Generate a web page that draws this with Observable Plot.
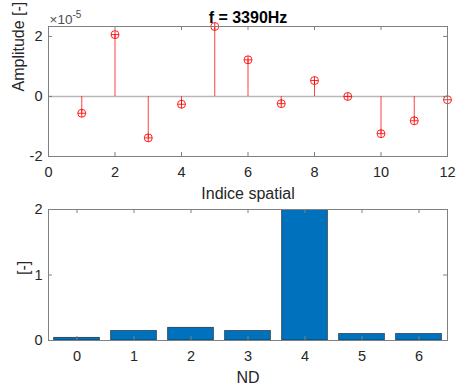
<!DOCTYPE html>
<html>
<head>
<meta charset="utf-8">
<script src="https://cdn.jsdelivr.net/npm/d3@7"></script>
<script src="https://cdn.jsdelivr.net/npm/@observablehq/plot@0.6"></script>
<style>
  html, body { margin: 0; padding: 0; background: #fff; }
  #chart { width: 457px; height: 387px; position: relative; }
  #chart svg { display: block; }
</style>
</head>
<body>
<div id="chart"></div>
<script>
// ---- Data ----
const spatialIndex = [1, 2, 3, 4, 5, 6, 7, 8, 9, 10, 11, 12];
const amplitude = [-0.56e-5, 2.06e-5, -1.38e-5, -0.26e-5, 2.33e-5, 1.22e-5, -0.24e-5, 0.53e-5, 0.0, -1.24e-5, -0.81e-5, -0.11e-5];
const ndCategories = [0, 1, 2, 3, 4, 5, 6];
const ndValues = [0.041, 0.143, 0.194, 0.143, 2.6, 0.097, 0.097];
const topXTicks = [0, 2, 4, 6, 8, 10, 12];
const topYTicks = [-2e-5, 0, 2e-5];
const botYTicks = [0, 1, 2];
const titleText = "f = 3390Hz";
const topXLabel = "Indice spatial";
const topYLabel = "Amplitude [-]";
const botXLabel = "ND";
const botYLabel = "[-]";
const expBase = "×10";
const expPow = "-5";

const stemData = spatialIndex.map((i, k) => ({i, v: amplitude[k]}));
const barData = ndCategories.map((nd, k) => ({nd, v: ndValues[k]}));

const FONT = "'Liberation Sans', Arial, Helvetica, sans-serif";
const AXIS = "#808080";
const TXT = "#262626";
const W = 457;
const ML = 48, MR = 10;
const TL = 4; // tick length

// circle with plus marker (MATLAB 'o' + '+')
const circlePlus = {
  draw(ctx, size) {
    const r = Math.sqrt(size / Math.PI);
    ctx.moveTo(r, 0);
    ctx.arc(0, 0, r, 0, 2 * Math.PI);
    ctx.moveTo(-r, 0); ctx.lineTo(r, 0);
    ctx.moveTo(0, -r); ctx.lineTo(0, r);
  }
};

function insideTicks(xt, yt, pw, ph) {
  return [
    Plot.tickX(xt, {x: d => d, insetTop: ph - TL, stroke: AXIS}),
    Plot.tickX(xt, {x: d => d, insetBottom: ph - TL, stroke: AXIS}),
    Plot.tickY(yt, {y: d => d, insetRight: pw - TL, stroke: AXIS}),
    Plot.tickY(yt, {y: d => d, insetLeft: pw - TL, stroke: AXIS})
  ];
}

// ---- Top plot ----
const H1 = 200, MT1 = 26, MB1 = 44;
const pw = W - ML - MR, ph1 = H1 - MT1 - MB1;
const topPlot = Plot.plot({
  width: W, height: H1,
  marginLeft: ML, marginRight: MR, marginTop: MT1, marginBottom: MB1,
  style: {fontFamily: FONT, fontSize: "14.5px", color: TXT, background: "#fff", overflow: "visible"},
  x: {domain: [0, 12], ticks: topXTicks, tickSize: 0, tickPadding: 10, label: null},
  y: {domain: [-2e-5, d3.max(amplitude)], ticks: topYTicks, tickSize: 0, tickPadding: 6, label: null,
      tickFormat: d => String(Math.round(d * 1e5))},
  marks: [
    Plot.ruleY([0], {stroke: "#b8b8b8", strokeWidth: 1.6}),
    Plot.ruleX(stemData, {x: "i", y1: 0, y2: "v", stroke: "#ff2020", strokeOpacity: 0.85, strokeWidth: 1}),
    Plot.dot(stemData, {x: "i", y: "v", r: 4, symbol: circlePlus, stroke: "#ff0000", strokeOpacity: 0.85, fill: "none", strokeWidth: 1}),
    Plot.frame({stroke: AXIS}),
    ...insideTicks(topXTicks, topYTicks, pw, ph1),
    Plot.text([titleText], {text: d => d, frameAnchor: "top", lineAnchor: "top", dy: -15, fontWeight: "bold", fontSize: 16, fill: "#000"}),
    Plot.text([expBase], {text: d => d, frameAnchor: "top-left", textAnchor: "start", lineAnchor: "top", dx: 1, dy: -12, fontSize: 13.5, fill: "#4d4d4d"}),
    Plot.text([expPow], {text: d => d, frameAnchor: "top-left", textAnchor: "start", lineAnchor: "top", dx: 24, dy: -15.5, fontSize: 10, fill: "#4d4d4d"}),
    Plot.text([topXLabel], {text: d => d, frameAnchor: "bottom", lineAnchor: "top", dy: 31, fontSize: 16, fill: TXT}),
    Plot.text([topYLabel], {text: d => d, frameAnchor: "left", rotate: -90, lineAnchor: "middle", dx: -30, fontSize: 16, fill: TXT})
  ]
});

// ---- Bottom plot ----
const H2 = 187, MT2 = 9, MB2 = 47;
const ph2 = H2 - MT2 - MB2;
const bottomPlot = Plot.plot({
  width: W, height: H2,
  marginLeft: ML, marginRight: MR, marginTop: MT2, marginBottom: MB2,
  style: {fontFamily: FONT, fontSize: "14.5px", color: TXT, background: "#fff", overflow: "visible"},
  x: {domain: [-0.5, 6.5], ticks: ndCategories, tickSize: 0, tickPadding: 10, label: null, tickFormat: d => String(d)},
  y: {domain: [0, 2], ticks: botYTicks, tickSize: 0, tickPadding: 6, label: null, tickFormat: d => String(d)},
  marks: [
    Plot.rectY(barData, {x1: d => d.nd - 0.4, x2: d => d.nd + 0.4, y: "v", fill: "#0072BD", stroke: "#1b2a38", strokeWidth: 0.7, clip: true}),
    Plot.frame({stroke: AXIS}),
    ...insideTicks(ndCategories, botYTicks, pw, ph2),
    Plot.text([botXLabel], {text: d => d, frameAnchor: "bottom", lineAnchor: "top", dy: 31, fontSize: 16, fill: TXT}),
    Plot.text([botYLabel], {text: d => d, frameAnchor: "left", rotate: -90, lineAnchor: "middle", dx: -25, fontSize: 16, fill: TXT})
  ]
});

const el = document.getElementById("chart");
el.appendChild(topPlot);
el.appendChild(bottomPlot);
</script>
</body>
</html>
